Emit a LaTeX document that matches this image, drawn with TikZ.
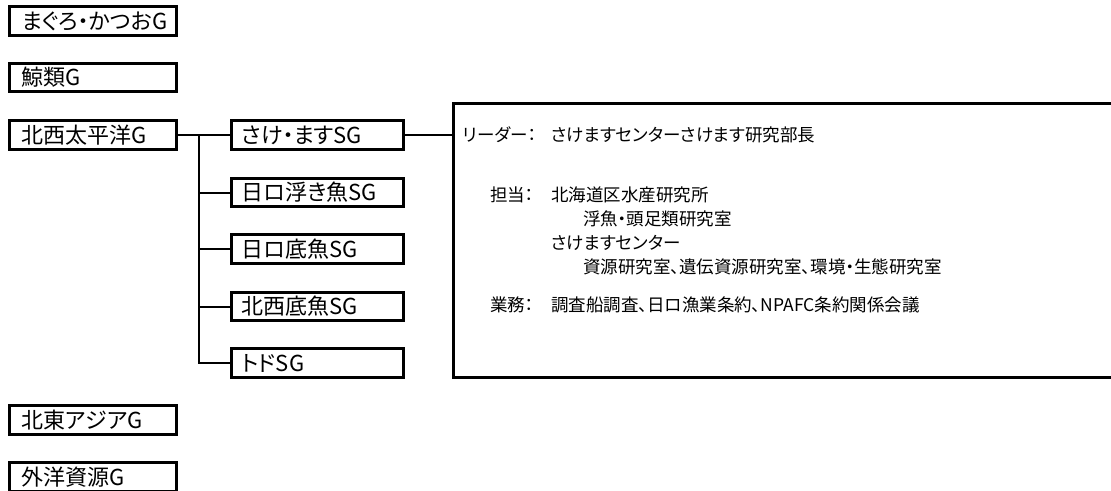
\documentclass[tikz,border=0pt]{standalone}
\usepackage{fontspec}
\setmainfont{Noto Sans CJK JP}[RawFeature=+palt]
\begin{document}
\begin{tikzpicture}[x=1pt,y=1pt,
  gbox/.style={draw=black, line width=3.2pt, fill=white, rectangle,
    minimum width=166.6pt, minimum height=28.6pt, inner xsep=12pt, inner ysep=0pt,
    text width=142.6pt, text height=18pt, text depth=1.2pt, align=left,
    font=\fontsize{22}{24}\selectfont},
  sgbox/.style={draw=black, line width=3.2pt, fill=white, rectangle,
    minimum width=171.8pt, minimum height=28.6pt, inner xsep=10pt, inner ysep=0pt,
    text width=151.8pt, text height=18pt, text depth=1.2pt, align=left,
    font=\fontsize{22}{24}\selectfont},
  infobox/.style={draw=black, line width=3.2pt, rectangle, inner sep=0pt},
  conn/.style={draw=black, line width=2pt},
  txt/.style={anchor=west, inner sep=0pt, font=\fontsize{17.5}{20}\selectfont}
]
\useasboundingbox (0,0) rectangle (1111,-490);
\fill[white] (0,0) rectangle (1111,-490);

% group boxes
\node[gbox] (maguro) at (93,-21) {まぐろ・かつおG};
\node[gbox] (kujira) at (93,-77.5) {鯨類G};
\node[gbox] (nwp) at (93,-135) {北西太平洋G};
\node[gbox] (nea) at (93,-420) {北東アジアG};
\node[gbox] (gaiyo) at (93,-477) {外洋資源G};

% subgroup boxes
\node[sgbox] (sake) at (317.5,-135) {さけ・ますSG};
\node[sgbox] (ukiuo) at (317.5,-192.5) {日ロ浮き魚SG};
\node[sgbox] (sokouo) at (317.5,-249) {日ロ底魚SG};
\node[sgbox] (nwsoko) at (317.5,-306.5) {北西底魚SG};
\node[sgbox] (todo) at (317.5,-363) {トドSG};

% info box (right side open beyond the page)
\node[infobox, anchor=north west, minimum width=700pt, minimum height=274pt] (info) at (451.5,-102) {};

% connectors
\coordinate (jct) at (198.5,-135);
\draw[conn] (nwp.east) -- (sake.west);
\draw[conn] (jct) |- (ukiuo.west);
\draw[conn] (jct) |- (sokouo.west);
\draw[conn] (jct) |- (nwsoko.west);
\draw[conn] (jct) |- (todo.west);
\draw[conn] (sake.east) -- (sake.east -| info.west);

% info text
\node[txt] (lbl1) at (463,-135) {リーダー：};
\node[txt] (val1) at (551,-135) {さけますセンターさけます研究部長};
\node[txt] (lbl2) at (490,-195) {担当：};
\node[txt] (val2) at (551,-195) {北海道区水産研究所};
\node[txt] (val3) at (583,-218.5) {浮魚・頭足類研究室};
\node[txt] (val4) at (551,-243) {さけますセンター};
\node[txt] (val5) at (583,-267) {資源研究室、遺伝資源研究室、環境・生態研究室};
\node[txt] (lbl3) at (490,-305) {業務：};
\node[txt] (val6) at (551,-305) {調査船調査、日ロ漁業条約、NPAFC条約関係会議};
\end{tikzpicture}
\end{document}
